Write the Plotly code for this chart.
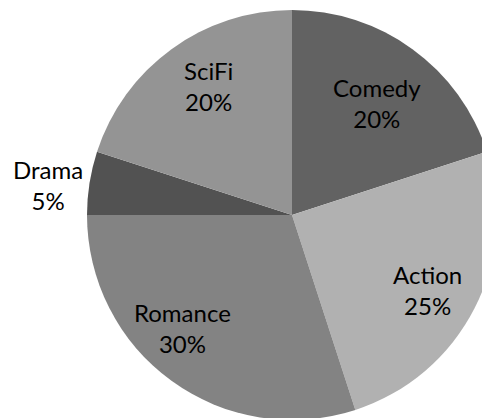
import math
import plotly.graph_objects as go

genres = ["Comedy", "Action", "Romance", "Drama", "SciFi"]
shares = [20, 25, 30, 5, 20]
colors = ["#626262", "#b1b1b1", "#838383", "#525252", "#949494"]
label_inside = [True, True, True, False, True]
# small per-label nudges (px, right / down) to match the reference label layout
label_nudge = [(-3, 9), (2, 7), (-22, -8), (-1, 8), (4, -8)]

fig = go.Figure(
    go.Pie(
        labels=genres,
        values=shares,
        sort=False,
        direction="clockwise",
        rotation=0,
        marker=dict(colors=colors, line=dict(width=0)),
        textinfo="none",
        hoverinfo="label+percent",
        showlegend=False,
    )
)

# Data labels placed along each slice's bisector (angles derived from the data)
total = sum(shares)
cum = 0
annotations = []
for name, val, inside, (nx, ny) in zip(genres, shares, label_inside, label_nudge):
    mid = (cum + val / 2) / total * 2 * math.pi
    cum += val
    f = 0.73 if inside else 1.2
    x = 0.5 + 0.5 * f * math.sin(mid)
    y = 0.5 + 0.5 * f * math.cos(mid)
    pct = round(val / total * 100)
    annotations.append(
        dict(
            x=x, y=y, xref="paper", yref="paper",
            text=f"{name}<br>{pct}%",
            showarrow=False,
            xanchor="center", yanchor="middle",
            xshift=nx, yshift=-ny,
            font=dict(family="Lato", size=24, color="black"),
        )
    )

fig.update_layout(
    width=490,
    height=418,
    margin=dict(l=79, r=1, t=2, b=6),
    paper_bgcolor="white",
    plot_bgcolor="white",
    font=dict(family="Lato", size=24, color="black"),
    annotations=annotations,
)
fig.write_html("out.html")
